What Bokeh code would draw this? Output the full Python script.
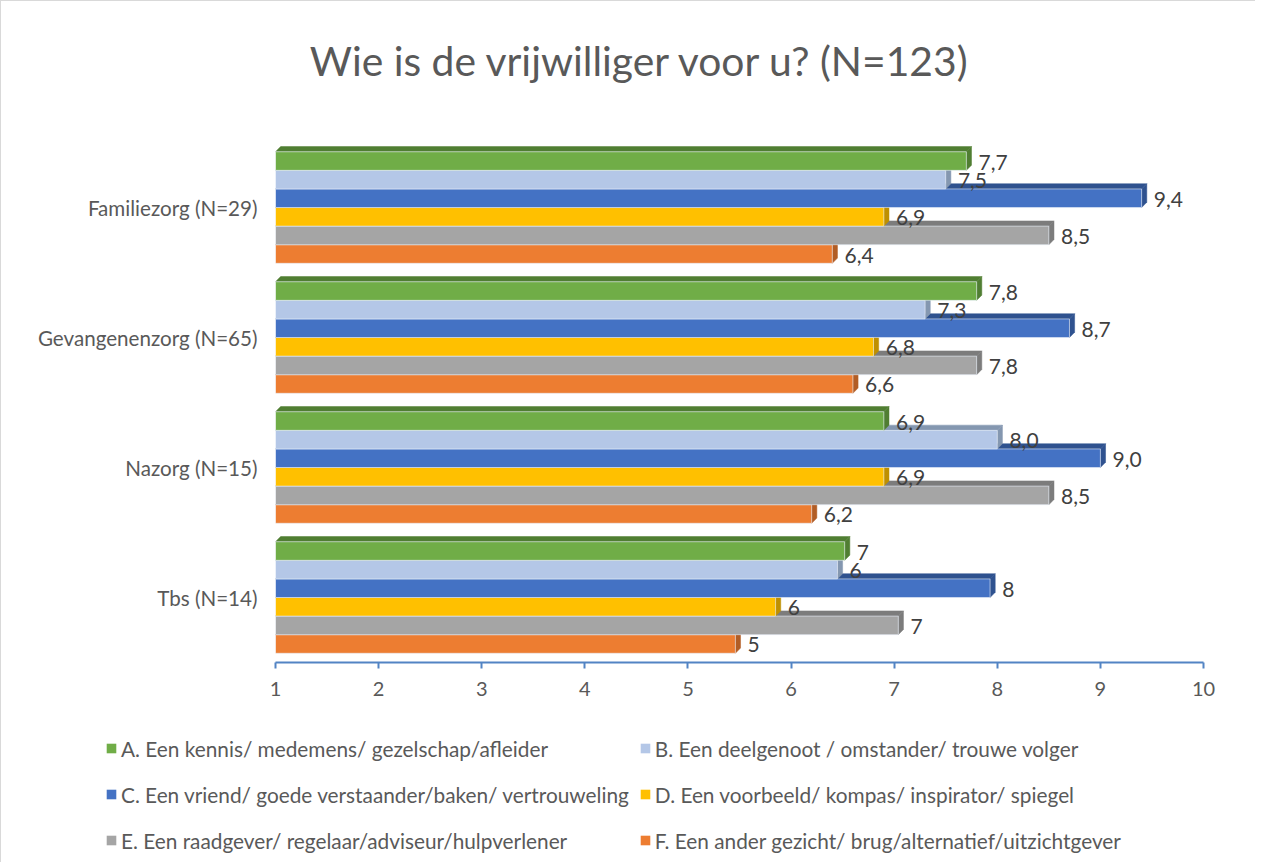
from bokeh.plotting import figure
from bokeh.models import Range1d, FixedTicker, Legend, LegendItem, Label, ColumnDataSource
from bokeh.embed import file_html
from bokeh.resources import INLINE
from bokeh.core.properties import value

title_text = "Wie is de vrijwilliger voor u? (N=123)"
categories = ["Familiezorg (N=29)", "Gevangenenzorg (N=65)", "Nazorg (N=15)", "Tbs (N=14)"]
series_names = [
    "A. Een kennis/ medemens/ gezelschap/afleider",
    "B. Een deelgenoot / omstander/ trouwe volger",
    "C. Een vriend/ goede verstaander/baken/ vertrouweling",
    "D. Een voorbeeld/ kompas/ inspirator/ spiegel",
    "E. Een raadgever/ regelaar/adviseur/hulpverlener",
    "F. Een ander gezicht/ brug/alternatief/uitzichtgever",
]
# values per series, categories in the order above
values_A = [7.7, 7.8, 6.9, 6.52]
values_B = [7.5, 7.3, 8.0, 6.45]
values_C = [9.4, 8.7, 9.0, 7.93]
values_D = [6.9, 6.8, 6.9, 5.85]
values_E = [8.5, 7.8, 8.5, 7.04]
values_F = [6.4, 6.6, 6.2, 5.46]
labels_A = ["7,7", "7,8", "6,9", "7"]
labels_B = ["7,5", "7,3", "8,0", "6"]
labels_C = ["9,4", "8,7", "9,0", "8"]
labels_D = ["6,9", "6,8", "6,9", "6"]
labels_E = ["8,5", "7,8", "8,5", "7"]
labels_F = ["6,4", "6,6", "6,2", "5"]
x_ticks = [1, 2, 3, 4, 5, 6, 7, 8, 9, 10]

colors = ["#70ad47", "#b4c7e7", "#4472c4", "#ffc000", "#a5a5a5", "#ed7d31"]
dark = ["#507e32", "#8497b0", "#2f528f", "#bf9000", "#7c7c7c", "#b25d25"]
all_values = [values_A, values_B, values_C, values_D, values_E, values_F]
all_labels = [labels_A, labels_B, labels_C, labels_D, labels_E, labels_F]

FONT = "Lato"
TXT = "#595959"
BASE = 1
BAR_H = 0.143
DX, DY = 0.05, 0.04
ncat = len(categories)
centers = [ncat - 0.5 - k for k in range(ncat)]
TOP_SPACE = 1.085   # room above the bars (in category units) for the title
BORDER = "1px solid #d9d9d9"

p = figure(width=1255, height=705, output_backend="svg", toolbar_location=None,
           x_range=Range1d(1, 10), y_range=Range1d(0, ncat + TOP_SPACE),
           min_border_left=274, min_border_right=53, min_border_top=0, min_border_bottom=44,
           styles={"border-left": BORDER, "border-top": BORDER})
p.outline_line_color = None
p.xgrid.visible = False
p.ygrid.visible = False
p.background_fill_color = "white"
p.border_fill_color = "white"

# x axis
p.xaxis.ticker = FixedTicker(ticks=x_ticks)
p.xaxis.axis_line_color = "#5284c4"
p.xaxis.axis_line_width = 2
p.xaxis.major_tick_line_color = "#5284c4"
p.xaxis.major_tick_line_width = 2
p.xaxis.major_tick_out = 6
p.xaxis.major_tick_in = 0
p.xaxis.minor_tick_line_color = None
p.xaxis.major_label_text_font = FONT
p.xaxis.major_label_text_font_size = "20px"
p.xaxis.major_label_text_color = TXT
p.xaxis.major_label_standoff = 13

# y axis (categories)
p.yaxis.ticker = FixedTicker(ticks=centers)
p.yaxis.major_label_overrides = {c: cat for c, cat in zip(centers, categories)}
p.yaxis.axis_line_color = None
p.yaxis.major_tick_line_color = None
p.yaxis.major_tick_out = 0
p.yaxis.major_tick_in = 0
p.yaxis.minor_tick_line_color = None
p.yaxis.major_label_text_font = FONT
p.yaxis.major_label_text_font_size = "20.6px"
p.yaxis.major_label_text_color = TXT
p.yaxis.major_label_standoff = 18

sources = [None] * 6
for i in reversed(range(6)):
    vals = all_values[i]
    ys = [c + (2.5 - i) * BAR_H for c in centers]
    bottoms = [y - BAR_H / 2 for y in ys]
    tops = [y + BAR_H / 2 for y in ys]
    top_xs = [[BASE, BASE + DX, v + DX, v] for v in vals]
    top_ys = [[t, t + DY, t + DY, t] for t in tops]
    side_xs = [[v, v + DX, v + DX, v] for v in vals]
    side_ys = [[b, b + DY, t + DY, t] for b, t in zip(bottoms, tops)]
    p.patches(top_xs, top_ys, fill_color=dark[i], line_color=dark[i], line_width=0.5)
    p.patches(side_xs, side_ys, fill_color=dark[i], line_color=dark[i], line_width=0.5)
    src = ColumnDataSource(dict(right=vals, top=tops, bottom=bottoms, y=ys,
                                lx=[v + DX for v in vals], lab=all_labels[i]))
    sources[i] = src
    p.quad(left=BASE, right="right", top="top", bottom="bottom", source=src,
           fill_color=colors[i], line_color="#e8eef8", line_width=0.6)
    p.text(x="lx", y="y", text="lab", source=src, x_offset=7, y_offset=1,
           text_font=value(FONT), text_font_size="21px", text_color="#404040",
           text_align="left", text_baseline="middle")

title = Label(x=4.54, y=ncat + 0.63, text=title_text, text_align="center",
              text_baseline="middle", text_font=FONT, text_font_size="40.8px",
              text_color=TXT)
p.add_layout(title)

# legend figure (its frame covers the whole canvas; bars are outside its ranges)
q = figure(width=1255, height=157, output_backend="svg", toolbar_location=None,
           x_range=Range1d(-1, 0), y_range=Range1d(-1, 0),
           x_axis_location=None, y_axis_location=None,
           min_border_left=0, min_border_right=0, min_border_top=0, min_border_bottom=0,
           styles={"border-left": BORDER})
q.outline_line_color = None
q.xgrid.visible = False
q.ygrid.visible = False
items = []
for i in range(6):
    r = q.quad(left=BASE, right="right", top="top", bottom="bottom", source=sources[i],
               fill_color=colors[i], line_color=None)
    items.append(LegendItem(label=series_names[i], renderers=[r]))
legend = Legend(items=items, orientation="horizontal", ncols=2,
                location=(104, 4), border_line_color=None, background_fill_alpha=0,
                label_text_font=FONT, label_text_font_size="20.8px", label_text_color=TXT,
                glyph_width=12, glyph_height=12, label_standoff=4, label_height=36,
                spacing=10, padding=0)
q.add_layout(legend, "center")

open("out.html", "w").write(file_html([p, q], INLINE))
